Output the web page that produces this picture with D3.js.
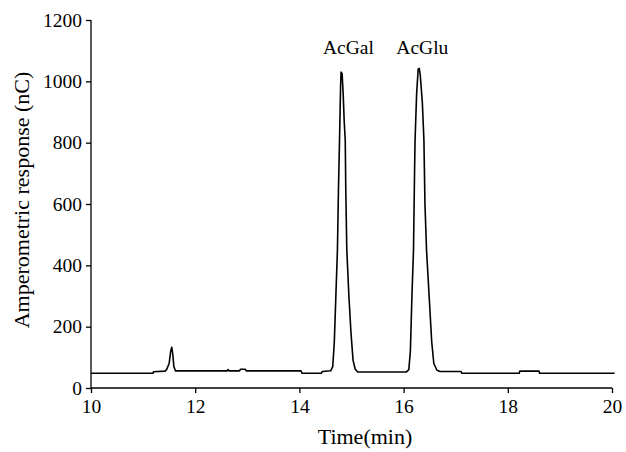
<!DOCTYPE html>
<html lang="en">
<head>
    <meta charset="UTF-8">
    <title>Amperometric response</title>
    <script src="https://d3js.org/d3.v7.min.js"></script>
    <style>
        body { margin: 0; background: #fff; }
        svg { display: block; }
        text { font-family: "Liberation Serif", "Times New Roman", serif; fill: #000; }
        .axis path, .axis line { stroke: #000; stroke-width: 1.3px; }
        .trace { fill: none; stroke: #000; stroke-width: 1.6px; stroke-linejoin: round; }
    </style>
</head>
<body>
    <svg width="626" height="452"></svg>
    <script>
        // chromatogram trace: time (min) and response (nC)
        const times = [10, 11.19, 11.2, 11.42, 11.45, 11.5, 11.53, 11.55, 11.57, 11.59, 11.62,
            12.62, 12.63, 12.65, 12.85, 12.87, 12.96, 12.98, 14.03, 14.05, 14.42, 14.44,
            14.6, 14.64, 14.67, 14.7, 14.73, 14.75, 14.77, 14.79, 14.8, 14.82, 14.84, 14.86,
            14.88, 14.89, 14.91, 14.95, 14.99, 15.03, 15.07, 15.12,
            16.05, 16.1, 16.13, 16.16, 16.19, 16.21, 16.22, 16.25, 16.28, 16.3, 16.32, 16.36,
            16.39, 16.41, 16.44, 16.49, 16.54, 16.58, 16.64, 16.7,
            17.1, 17.12, 18.22, 18.23, 18.6, 18.61, 20.05];
        const response = [48, 48, 53, 55, 60, 80, 120, 133, 110, 70, 56,
            56, 60, 56, 56, 61, 61, 56, 56, 48, 48, 54,
            56, 70, 150, 300, 450, 650, 808, 980, 1030, 1025, 960, 870,
            808, 650, 450, 300, 180, 90, 62, 52,
            52, 60, 120, 300, 450, 700, 808, 960, 1040, 1042, 1020, 930,
            808, 600, 450, 300, 150, 80, 58, 54,
            54, 48, 48, 55, 55, 48, 48];

        const xTicks = [10, 12, 14, 16, 18, 20];
        const yTicks = [0, 200, 400, 600, 800, 1000, 1200];

        const peakNames = ["AcGal", "AcGlu"];
        const peakTimes = [14.94, 16.36];
        const peakLabelY = [1089, 1089];

        const svg = d3.select("svg");
        const serif = "Liberation Serif, Times New Roman, serif";

        const x = d3.scaleLinear().domain([10, 20]).range([91, 612]);
        const y = d3.scaleLinear().domain([0, 1200]).range([388, 20]);

        const trace = times.map((t, i) => [t, response[i]]);

        svg.append("g")
            .attr("class", "axis")
            .attr("transform", "translate(0,388)")
            .call(d3.axisBottom(x).tickValues(xTicks).tickSize(5).tickPadding(6).tickFormat(d3.format("d")))
            .attr("font-family", serif)
            .attr("font-size", 19.5)
            .call(g => g.select(".domain").attr("d", "M91,0H612"));

        svg.append("g")
            .attr("class", "axis")
            .attr("transform", "translate(91,0)")
            .call(d3.axisLeft(y).tickValues(yTicks).tickSize(5).tickPadding(4).tickFormat(d3.format("d")))
            .attr("font-family", serif)
            .attr("font-size", 19.5)
            .call(g => g.select(".domain").attr("d", "M0,20V388"));

        svg.append("path")
            .datum(trace)
            .attr("class", "trace")
            .attr("d", d3.line().x(d => x(d[0])).y(d => y(d[1])));

        svg.selectAll(".peak-label")
            .data(peakNames)
            .enter().append("text")
            .attr("class", "peak-label")
            .attr("x", (d, i) => x(peakTimes[i]))
            .attr("y", (d, i) => y(peakLabelY[i]))
            .attr("text-anchor", "middle")
            .attr("font-size", 19.5)
            .text(d => d);

        svg.append("text")
            .attr("x", 365)
            .attr("y", 444)
            .attr("text-anchor", "middle")
            .attr("font-size", 22)
            .text("Time(min)");

        svg.append("text")
            .attr("transform", "translate(29,200) rotate(-90)")
            .attr("text-anchor", "middle")
            .attr("font-size", 22)
            .text("Amperometric response (nC)");
    </script>
</body>
</html>
